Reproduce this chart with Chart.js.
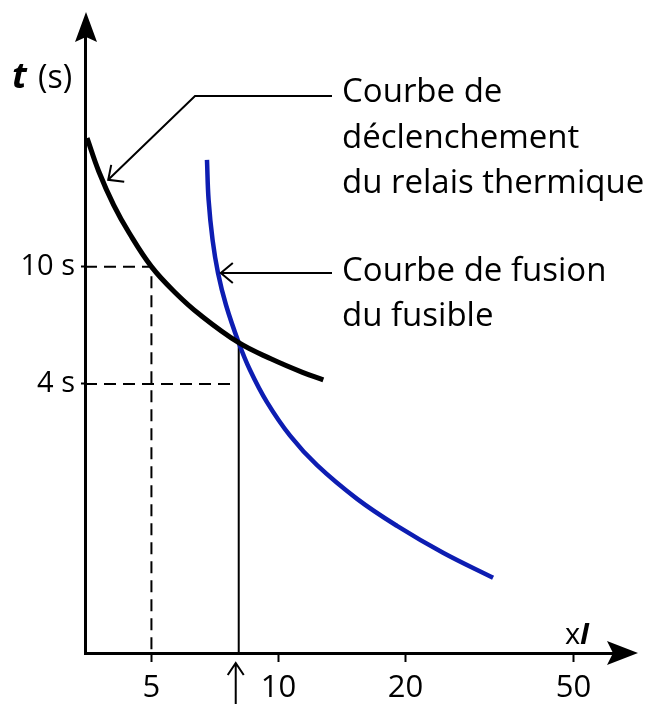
<!DOCTYPE html>
<html>
<head>
<meta charset="utf-8">
<script src="https://cdn.jsdelivr.net/npm/chart.js@4"></script>
<style>
  body { margin: 0; background: #fff; }
  canvas { display: block; }
</style>
</head>
<body>
<canvas id="myChart" width="657" height="704"></canvas>
<script>
// relay (black) trip curve
const relayI = [3.52, 3.75, 4.07, 4.43, 5, 5.68, 6.53, 8.05, 9.62, 11.4, 12.77];
const relayT = [27.3, 21.07, 16.17, 13.0, 10, 8.19, 6.85, 5.52, 4.86, 4.38, 4.13];
// fuse (blue) melting curve
const fuseI = [6.77, 6.83, 6.98, 7.19, 7.51, 8.05, 8.56, 9.39, 10.65, 12.34, 15.35, 19.09, 24.54, 32.24];
const fuseT = [23.02, 16.84, 12.32, 9.52, 7.41, 5.52, 4.46, 3.47, 2.67, 2.12, 1.63, 1.32, 1.07, 0.88];
// tick labels
const xTicks = [5, 10, 20, 50];
const yTicks = [4, 10];
// guide values
const guideI = 5;
const guideT = 10;
const guide4T = 4;
const guide4I = 7.79;
const crossI = 8.05;
const crossT = 5.52;

const xMin = 3.48, xMax = 62.7;
const yMin = 0.489, yMax = 63.5;

function pts(xs, ys) {
    return xs.map(function (x, i) { return { x: x, y: ys[i] }; });
}

renderChart();

function renderChart() {
    const data = {
        datasets: [{
            data: pts(relayI, relayT),
            borderColor: '#000',
            borderWidth: 5,
            tension: 0.4,
            pointRadius: 0,
        }, {
            data: pts(fuseI, fuseT),
            borderColor: '#0d1db2',
            borderWidth: 4.5,
            tension: 0.4,
            pointRadius: 0,
        }, {
            data: [{ x: xMin, y: guideT }, { x: guideI, y: guideT }, { x: guideI, y: yMin }],
            borderColor: '#000',
            borderWidth: 2,
            borderDash: [12, 7],
            pointRadius: 0,
        }, {
            data: [{ x: xMin, y: guide4T }, { x: guide4I, y: guide4T }],
            borderColor: '#000',
            borderWidth: 2,
            borderDash: [12, 7],
            pointRadius: 0,
        }, {
            data: [{ x: crossI, y: crossT }, { x: crossI, y: yMin }],
            borderColor: '#000',
            borderWidth: 2,
            pointRadius: 0,
        }]
    };

    // arrows, axis heads and texts drawn on top
    const extras = {
        id: 'extras',
        afterDraw: function (chart) {
            const ctx = chart.ctx;
            const xs = chart.scales.x, ys = chart.scales.y;
            const area = chart.chartArea;
            ctx.save();
            ctx.fillStyle = '#000';
            ctx.strokeStyle = '#000';

            // axis arrow heads
            ctx.lineWidth = 3;
            ctx.beginPath();
            ctx.moveTo(area.left, area.top);
            ctx.lineTo(area.left, 30);
            ctx.moveTo(area.right, area.bottom);
            ctx.lineTo(615, area.bottom);
            ctx.stroke();
            ctx.beginPath();
            ctx.moveTo(area.left + 1, 12);
            ctx.lineTo(area.left + 12, 42);
            ctx.lineTo(area.left + 1, 37);
            ctx.lineTo(area.left - 10, 42);
            ctx.closePath();
            ctx.fill();
            ctx.beginPath();
            ctx.moveTo(638, area.bottom);
            ctx.lineTo(607, area.bottom - 12);
            ctx.lineTo(613, area.bottom);
            ctx.lineTo(607, area.bottom + 12);
            ctx.closePath();
            ctx.fill();

            // leader to relay curve
            ctx.lineWidth = 2;
            const tip1x = xs.getPixelForValue(3.95), tip1y = ys.getPixelForValue(19.7);
            ctx.beginPath();
            ctx.moveTo(332, 96);
            ctx.lineTo(195, 96);
            ctx.lineTo(tip1x, tip1y);
            ctx.stroke();
            ctx.beginPath();
            ctx.moveTo(tip1x + 3, tip1y - 15);
            ctx.lineTo(tip1x, tip1y);
            ctx.lineTo(tip1x + 16, tip1y + 2);
            ctx.stroke();

            // leader to fuse curve
            const tip2x = xs.getPixelForValue(7.3), tip2y = ys.getPixelForValue(9.52);
            ctx.beginPath();
            ctx.moveTo(332, tip2y);
            ctx.lineTo(tip2x, tip2y);
            ctx.stroke();
            ctx.beginPath();
            ctx.moveTo(tip2x + 12, tip2y - 10);
            ctx.lineTo(tip2x, tip2y);
            ctx.lineTo(tip2x + 12, tip2y + 10);
            ctx.stroke();

            // up arrow under the crossing
            const ax = xs.getPixelForValue(crossI) - 3;
            ctx.beginPath();
            ctx.moveTo(ax, 704);
            ctx.lineTo(ax, 663);
            ctx.moveTo(ax - 8, 675);
            ctx.lineTo(ax, 663);
            ctx.lineTo(ax + 8, 675);
            ctx.stroke();

            // texts
            ctx.textBaseline = 'alphabetic';
            ctx.textAlign = 'left';
            ctx.font = '33px "Open Sans"';
            ctx.fillText('Courbe de', 342, 102);
            ctx.fillText('déclenchement', 342, 148);
            ctx.fillText('du relais thermique', 342, 193);
            ctx.fillText('Courbe de fusion', 342, 281);
            ctx.fillText('du fusible', 342, 326);

            ctx.font = 'italic bold 36px "Open Sans"';
            ctx.fillText('t', 12, 88);
            ctx.font = '32px "Open Sans"';
            ctx.fillText('(s)', 38, 88);

            ctx.font = '29px "Open Sans"';
            ctx.fillText('x', 565, 644);
            ctx.font = 'italic bold 29px "Open Sans"';
            ctx.fillText('I', 580, 644);
            ctx.restore();
        }
    };

    const config = {
        type: 'line',
        data: data,
        options: {
            responsive: false,
            animation: false,
            devicePixelRatio: 1,
            layout: {
                padding: { top: 30, right: 42, bottom: 0, left: 0 }
            },
            plugins: {
                legend: { display: false },
                tooltip: { enabled: false },
            },
            scales: {
                x: {
                    type: 'logarithmic',
                    min: xMin,
                    max: xMax,
                    afterBuildTicks: function (scale) {
                        scale.ticks = xTicks.map(function (v) { return { value: v }; });
                    },
                    afterFit: function (scale) { scale.height = 51; },
                    ticks: {
                        autoSkip: false,
                        maxRotation: 0,
                        color: '#000',
                        padding: 8,
                        font: { family: 'Open Sans', size: 31 },
                        callback: function (v) { return String(v); }
                    },
                    grid: {
                        drawOnChartArea: false,
                        tickLength: 9,
                        tickWidth: 2,
                        color: '#000'
                    },
                    border: { color: '#000', width: 3 }
                },
                y: {
                    type: 'logarithmic',
                    min: yMin,
                    max: yMax,
                    afterBuildTicks: function (scale) {
                        scale.ticks = yTicks.map(function (v) { return { value: v }; });
                    },
                    afterFit: function (scale) { scale.width = 85; },
                    ticks: {
                        autoSkip: false,
                        color: '#000',
                        padding: 6,
                        font: { family: 'Open Sans', size: 29 },
                        callback: function (v) { return v + ' s'; }
                    },
                    grid: {
                        drawOnChartArea: false,
                        tickLength: 4,
                        tickWidth: 2,
                        color: '#000'
                    },
                    border: { color: '#000', width: 3 }
                }
            }
        },
        plugins: [extras]
    };

    var myChart = new Chart(document.getElementById('myChart'), config);
}
</script>
</body>
</html>
